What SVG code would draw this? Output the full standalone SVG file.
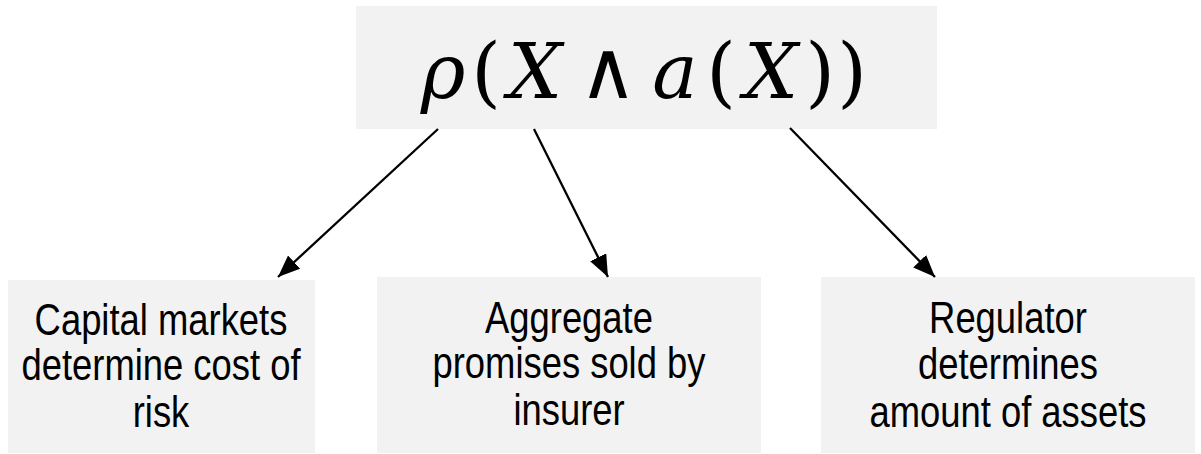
<svg xmlns="http://www.w3.org/2000/svg" width="1201" height="454" viewBox="0 0 1201 454">
<style>
.box{fill:#f2f2f2;stroke:none}
.lbl{font-family:"Liberation Sans",Arial,sans-serif;font-size:36.4px;fill:#000;text-anchor:middle}
.math{font-family:"DejaVu Serif","Liberation Serif",serif;font-size:76px;fill:#000;text-anchor:middle}
.it{font-style:italic}
.conn{stroke:#000;stroke-width:2.3;fill:none;marker-end:url(#ah)}
</style>
<defs>
<marker id="ah" markerUnits="userSpaceOnUse" markerWidth="24" markerHeight="18" refX="22" refY="9" orient="auto">
<path d="M0,0 L22,9 L0,18 Z" fill="#000"/>
</marker>
</defs>
<rect width="1201" height="454" fill="#fff"/>
<g id="top">
<rect class="box" x="356" y="6" width="581" height="123"/>
<text class="math" y="98"><tspan class="it" x="443">ρ</tspan><tspan x="486">(</tspan><tspan class="it" x="535">X</tspan><tspan x="608" font-size="80">∧</tspan><tspan class="it" x="675">a</tspan><tspan x="721">(</tspan><tspan class="it" x="771">X</tspan><tspan x="820">)</tspan><tspan x="852">)</tspan></text>
</g>
<g id="node1">
<rect class="box" x="8" y="280" width="307" height="173"/>
<text class="lbl" transform="scale(1,1.2)"><tspan x="161" y="279.2">Capital markets</tspan><tspan x="161" y="316.7">determine cost of</tspan><tspan x="161" y="355.8">risk</tspan></text>
</g>
<g id="node2">
<rect class="box" x="377" y="277" width="384" height="176"/>
<text class="lbl" transform="scale(1,1.2)"><tspan x="569" y="277.5">Aggregate</tspan><tspan x="569" y="314.8">promises sold by</tspan><tspan x="569" y="354">insurer</tspan></text>
</g>
<g id="node3">
<rect class="box" x="821" y="277" width="374" height="176"/>
<text class="lbl" transform="scale(1,1.2)"><tspan x="1008" y="277.5">Regulator</tspan><tspan x="1008" y="315.5">determines</tspan><tspan x="1008" y="355.8">amount of assets</tspan></text>
</g>
<g id="connectors">
<line class="conn" x1="438" y1="129" x2="278" y2="277"/>
<line class="conn" x1="534" y1="129" x2="608" y2="277"/>
<line class="conn" x1="790" y1="128" x2="935" y2="277"/>
</g>
</svg>
